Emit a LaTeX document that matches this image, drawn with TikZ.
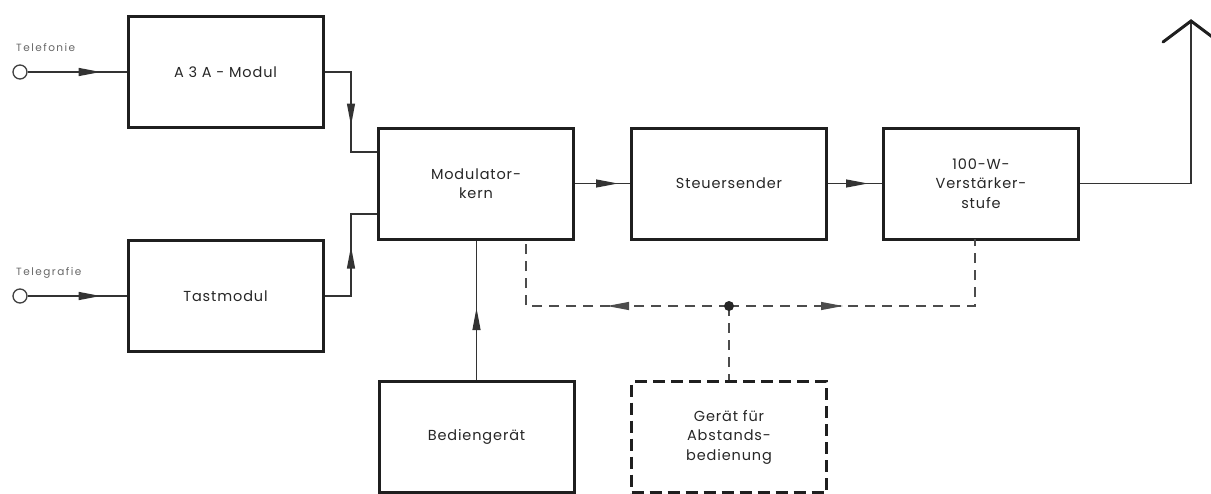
\documentclass[tikz,border=0pt]{standalone}
\usepackage{fontspec}
\setmainfont{Poppins}[LetterSpace=6]
\newfontfamily\smallfont{Poppins}[LetterSpace=14]
\usepackage{xcolor}
\usepackage{tikz}
\usetikzlibrary{arrows.meta, positioning, decorations.markings, shapes.geometric}

\begin{document}
\begin{tikzpicture}[x=1pt, y=-1pt]
\tikzstyle{modbox} = [rectangle, draw=black!88, line width=3pt, minimum width=195pt, minimum height=111pt, inner sep=0pt, align=center, text=black!85, font=\fontsize{14.5}{19.5}\selectfont]
\tikzstyle{dashbox} = [modbox, dash pattern=on 12pt off 6pt]
\tikzstyle{sigline} = [draw=black!80, line width=1.2pt]
\tikzstyle{ctrlline} = [draw=black!70, line width=1.1pt, dash pattern=on 10pt off 7pt]
\tikzstyle{inport} = [circle, draw=black!75, line width=1.3pt, minimum size=14pt, inner sep=0pt]
\tikzstyle{portlabel} = [font=\smallfont\fontsize{10.5}{12}\selectfont, text=black!60, anchor=base west, inner sep=0pt]
\tikzstyle{midarrow} = [postaction={decorate, decoration={markings, mark=at position #1 with {\arrow{Triangle[length=22pt, width=8pt]}}}}]

\useasboundingbox (0,0) rectangle (1211,493);

% blocks
\node (a3a) [modbox] at (225.5,72) {A 3 A - Modul};
\node (tast) [modbox] at (225.5,296) {Tastmodul};
\node (modkern) [modbox] at (476,183.5) {Modulator-\\kern};
\node (steuer) [modbox] at (729,183.5) {Steuersender};
\node (verst) [modbox] at (981,183.5) {100-W-\\Verstärker-\\stufe};
\node (bedien) [modbox] at (476.5,437) {Bediengerät};
\node (abstand) [dashbox] at (729,437) {Gerät für\\Abstands-\\bedienung};

% inputs
\node (tel) [inport] at (20,72) {};
\node (tgr) [inport] at (20,296) {};
\node (tellabel) [portlabel] at (16,51) {Telefonie};
\node (tgrlabel) [portlabel] at (16,275) {Telegrafie};

\coordinate (j1) at (351,152);
\coordinate (j2) at (351,214);
\coordinate (ant) at (1191,21);
\coordinate (hub) at (729,306);
\coordinate (c1) at (526,239);
\coordinate (c2) at (975,239);

% signal path
\draw[sigline, midarrow=73pt] (tel.east) -- (a3a.west);
\draw[sigline, midarrow=73pt] (tgr.east) -- (tast.west);
\draw[sigline, midarrow=80pt] (a3a.east) -| (j1) -- (j1 -| modkern.west);
\draw[sigline, midarrow=76pt] (tast.east) -| (j2) -- (j2 -| modkern.west);
\draw[sigline, midarrow=43pt] (modkern.east) -- (steuer.west);
\draw[sigline, midarrow=40pt] (steuer.east) -- (verst.west);
\draw[sigline, midarrow=72pt] (bedien.north) -- (bedien.north |- modkern.south);
\draw[sigline] (verst.east) -| (ant);
\draw[draw=black!88, line width=3pt, line cap=round, line join=miter] (ant) ++(-28,21) -- (ant) -- ++(28,21);

% remote control
\draw[ctrlline, midarrow=122pt] (hub) -| (c1);
\draw[ctrlline, midarrow=114pt] (hub) -| (c2);
\draw[ctrlline] (hub) -- (abstand.north);
\fill[black!85] (hub) circle (5pt);

\end{tikzpicture}
\end{document}
